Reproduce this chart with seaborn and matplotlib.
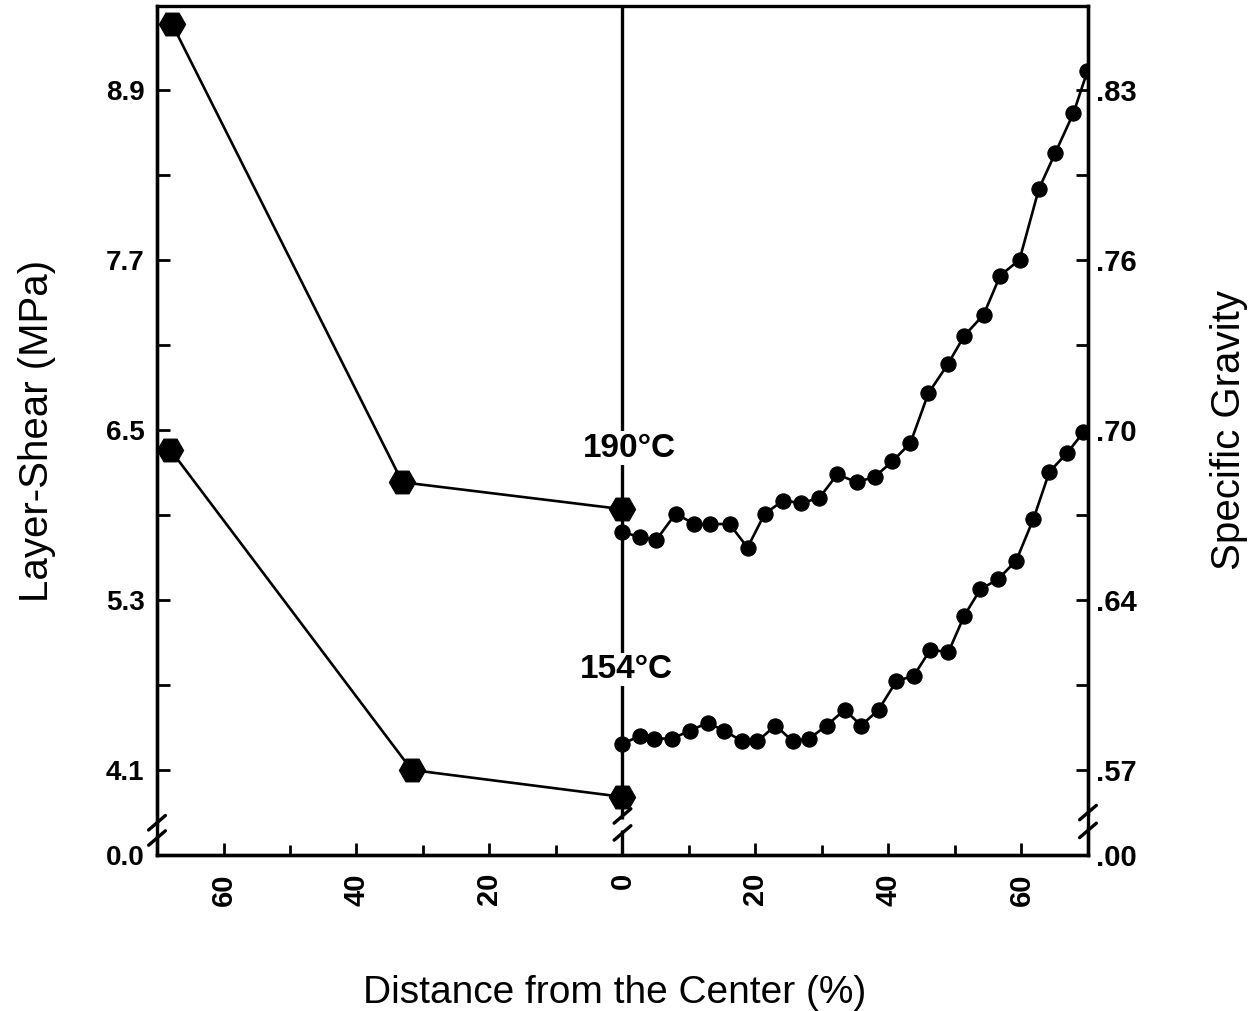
import numpy as np
import pandas as pd
import matplotlib
matplotlib.use("Agg")
import matplotlib.pyplot as plt
import seaborn as sns
from matplotlib.ticker import FuncFormatter, FixedLocator

# ---------------- data ----------------
# Layer-shear (left half, distance from centre in %)
shear_dist_190 = [67.7, 33.1, 0.0]
shear_190 = [9.36, 6.13, 5.94]
shear_dist_154 = [68.0, 31.7, 0.0]
shear_154 = [6.36, 4.10, 3.91]

# Specific gravity profiles (right half)
sg_dist_190 = [0, 2.6, 5.1, 8.0, 10.8, 13.2, 16.1, 18.8, 21.4, 24.2, 26.9, 29.6, 32.3, 35.2,
               37.9, 40.6, 43.3, 46.0, 48.9, 51.4, 54.3, 56.8, 59.7, 62.6, 65.1, 67.8, 69.9]
sg_190 = [0.661, 0.659, 0.658, 0.668, 0.664, 0.664, 0.664, 0.655, 0.668, 0.673, 0.672, 0.674,
          0.683, 0.680, 0.682, 0.688, 0.695, 0.714, 0.725, 0.736, 0.744, 0.759, 0.765, 0.792,
          0.806, 0.821, 0.837]
sg_dist_154 = [0, 2.6, 4.8, 7.5, 10.1, 12.8, 15.3, 18.0, 20.3, 23.0, 25.6, 28.1, 30.7, 33.4,
               35.9, 38.5, 41.2, 43.8, 46.3, 49.0, 51.4, 53.8, 56.5, 59.2, 61.8, 64.2, 66.8, 69.3]
sg_154 = [0.580, 0.583, 0.582, 0.582, 0.585, 0.588, 0.585, 0.581, 0.581, 0.587, 0.581, 0.582,
          0.587, 0.593, 0.587, 0.593, 0.604, 0.606, 0.616, 0.615, 0.629, 0.639, 0.643, 0.650,
          0.666, 0.684, 0.691, 0.699]

shear_ticks = [3.5, 4.1, 5.3, 6.5, 7.7, 8.9]
shear_ticklabels = ["0.0", "4.1", "5.3", "6.5", "7.7", "8.9"]
sg_ticks = [0.5375, 0.57, 0.635, 0.70, 0.765, 0.83]
sg_ticklabels = [".00", ".57", ".64", ".70", ".76", ".83"]
x_major = [-60, -40, -20, 0, 20, 40, 60]
x_minor = [-50, -30, -10, 10, 30, 50]

# ---------------- style ----------------
sns.set_theme(style="ticks")
plt.rcParams["font.family"] = ["Liberation Sans", "DejaVu Sans"]
plt.rcParams["text.color"] = "black"
plt.rcParams["axes.labelcolor"] = "black"

fig = plt.figure(figsize=(12.51, 10.11), dpi=100)
ax = fig.add_axes([0.1255, 0.1543, 0.7442, 0.8397])
ax2 = ax.twinx()

line_kw = dict(color="black", linewidth=1.9, markeredgecolor="black", markerfacecolor="black")

df190 = pd.DataFrame({"x": [-d for d in shear_dist_190], "y": shear_190})
df154 = pd.DataFrame({"x": [-d for d in shear_dist_154], "y": shear_154})
sns.lineplot(data=df190, x="x", y="y", marker="H", markersize=19, ax=ax, **line_kw)
sns.lineplot(data=df154, x="x", y="y", marker="H", markersize=19, ax=ax, **line_kw)

dg190 = pd.DataFrame({"x": sg_dist_190, "y": sg_190})
dg154 = pd.DataFrame({"x": sg_dist_154, "y": sg_154})
sns.lineplot(data=dg190, x="x", y="y", marker="o", markersize=11, ax=ax2, **line_kw)
sns.lineplot(data=dg154, x="x", y="y", marker="o", markersize=11, ax=ax2, **line_kw)

ax.axvline(0, color="black", linewidth=2.4, zorder=1)

ax.set_xlim(-70, 70)
ax.set_ylim(3.5, 9.49)
ax2.set_ylim(0.5375, 0.862)

# x ticks
ax.xaxis.set_major_locator(FixedLocator(x_major))
ax.xaxis.set_minor_locator(FixedLocator(x_minor))
ax.xaxis.set_major_formatter(FuncFormatter(lambda v, p: f"{abs(v):.0f}"))
ax.tick_params(axis="x", which="both", direction="in", length=9, width=2.0, top=False,
               bottom=True, labelsize=21, pad=13, labelrotation=90, colors="black")
ax.tick_params(axis="x", which="minor", length=7)

# left y ticks
ax.set_yticks(shear_ticks)
ax.set_yticklabels(shear_ticklabels)
ax.yaxis.set_minor_locator(FixedLocator([4.7, 5.9, 7.1, 8.3]))
ax.tick_params(axis="y", which="both", direction="in", length=9, width=2.0, left=True,
               right=False, labelsize=20, pad=9, colors="black")

# right y ticks
ax2.set_yticks(sg_ticks)
ax2.set_yticklabels(sg_ticklabels)
ax2.yaxis.set_minor_locator(FixedLocator([0.6025, 0.6675, 0.7325, 0.7975]))
ax2.tick_params(axis="y", which="both", direction="in", length=9, width=2.0, right=True,
                left=False, labelsize=21, pad=6, colors="black")

for a in (ax, ax2):
    for lab in a.get_xticklabels() + a.get_yticklabels():
        lab.set_fontweight("bold")
    for s in a.spines.values():
        s.set_linewidth(2.4)
        s.set_color("black")
ax2.spines["top"].set_visible(False)

ax.set_xlabel("Distance from the Center (%)", fontsize=28, color="black")
ax.xaxis.set_label_coords(0.492, -0.141)
ax.set_ylabel("Layer-Shear (MPa)", fontsize=29, color="black")
ax.yaxis.set_label_coords(-0.108, 0.5)
ax2.set_ylabel("Specific Gravity", fontsize=29, color="black", rotation=90)
ax2.yaxis.set_label_coords(1.131, 0.5)

# temperature labels
ax.text(1.0, 6.37, "190°C", fontsize=24, fontweight="bold", ha="center", va="center",
        color="black", zorder=5, bbox=dict(facecolor="white", edgecolor="none", pad=1))
ax.text(0.6, 4.81, "154°C", fontsize=24, fontweight="bold", ha="center", va="center",
        color="black", zorder=5, bbox=dict(facecolor="white", edgecolor="none", pad=1))

# axis-break marks
def break_marks(xa, y1, y2):
    dx, dy = 0.009, 0.0085
    ax.plot([xa, xa], [y2 + 0.004, y1 - 0.004], transform=ax.transAxes, color="white",
            linewidth=5, clip_on=False, zorder=6, solid_capstyle="butt")
    for yc in (y1, y2):
        ax.plot([xa - dx, xa + dx], [yc - dy, yc + dy], transform=ax.transAxes,
                color="black", linewidth=2.4, clip_on=False, zorder=7)

break_marks(0.0, 0.038, 0.020)
break_marks(0.5, 0.046, 0.026)
break_marks(1.0, 0.050, 0.029)

fig.savefig("out.png", dpi=100, facecolor="white")
